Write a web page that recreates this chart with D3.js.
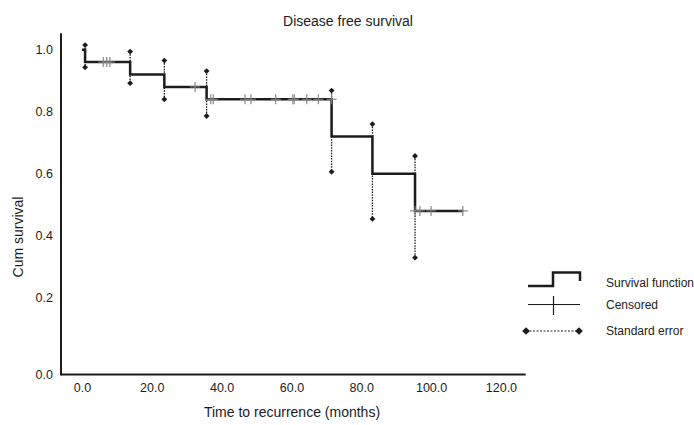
<!DOCTYPE html>
<html>
<head>
<meta charset="utf-8">
<script src="https://cdn.jsdelivr.net/npm/d3@7"></script>
<style>
  html, body { margin: 0; padding: 0; background: #fff; }
  svg { display: block; font-family: "Liberation Sans", Arial, sans-serif; }
</style>
</head>
<body>
<svg id="chart" width="694" height="425"></svg>
<script>
// ---- data ----
const title = "Disease free survival";
const xTitle = "Time to recurrence (months)";
const yTitle = "Cum survival";
const xTickValues = [0, 20, 40, 60, 80, 100, 120];
const yTickValues = [0, 0.2, 0.4, 0.6, 0.8, 1.0];

const eventTimes = [0.9, 13.8, 23.6, 35.7, 71.5, 83.2, 95.4];
const survivalAfter = [0.96, 0.92, 0.88, 0.84, 0.72, 0.60, 0.48];
const endTime = 109.2;

const seUpper = [1.015, 0.994, 0.965, 0.931, 0.868, 0.760, 0.657];
const seLower = [0.943, 0.892, 0.840, 0.786, 0.606, 0.454, 0.329];

const censorTimes = [6.1, 7.1, 8.0, 32.4, 36.9, 37.6, 46.7, 48.4, 55.5, 60.4, 60.8, 64.4, 67.7, 71.5, 95.4, 96.8, 100.0, 109.1];
const censorSurv  = [0.96, 0.96, 0.96, 0.88, 0.84, 0.84, 0.84, 0.84, 0.84, 0.84, 0.84, 0.84, 0.84, 0.84, 0.48, 0.48, 0.48, 0.48];

const legendLabels = ["Survival function", "Censored", "Standard error"];

// ---- drawing ----
const svg = d3.select("#chart");
const x = d3.scaleLinear().domain([-6, 127.1]).range([61, 525.7]);
const y = d3.scaleLinear().domain([0, 0.2, 1.0]).range([374.5, 297.7, 49.7]);
const ink = "#1c1c1c";

// title
svg.append("text").attr("x", 348).attr("y", 21).attr("dy", "0.35em")
  .attr("text-anchor", "middle").attr("font-size", 14).attr("fill", ink).text(title);

// axes
const xAxis = svg.append("g").attr("transform", `translate(0,${y(0)})`)
  .call(d3.axisBottom(x).tickValues(xTickValues).tickSize(0).tickPadding(9).tickFormat(d3.format(".1f")));
xAxis.select(".domain").remove();
xAxis.selectAll("text").attr("font-size", 12.5).attr("fill", ink).attr("font-family", "Liberation Sans, Arial, sans-serif");

const yAxis = svg.append("g").attr("transform", `translate(${x(-6)},0)`)
  .call(d3.axisLeft(y).tickValues(yTickValues).tickSize(0).tickPadding(8).tickFormat(d3.format(".1f")));
yAxis.select(".domain").remove();
yAxis.selectAll("text").attr("font-size", 12.5).attr("fill", ink).attr("font-family", "Liberation Sans, Arial, sans-serif");

svg.append("line").attr("x1", x(-6)).attr("x2", x(127.1)).attr("y1", y(0)).attr("y2", y(0))
  .attr("stroke", ink).attr("stroke-width", 2);
svg.append("line").attr("x1", x(-6)).attr("x2", x(-6)).attr("y1", y(0) + 1).attr("y2", y(1.053))
  .attr("stroke", ink).attr("stroke-width", 2);

// axis titles
svg.append("text").attr("x", 292).attr("y", 412).attr("dy", "0.35em")
  .attr("text-anchor", "middle").attr("font-size", 14).attr("fill", ink).text(xTitle);
svg.append("text").attr("transform", "translate(18,237) rotate(-90)").attr("dy", "0.35em")
  .attr("text-anchor", "middle").attr("font-size", 14).attr("fill", ink).text(yTitle);

// SE dotted lines with diamonds (rotated squares)
const diamond = d3.symbol(d3.symbolSquare, 17);
eventTimes.forEach((t, i) => {
  svg.append("line").attr("x1", x(t)).attr("x2", x(t)).attr("y1", y(seUpper[i])).attr("y2", y(seLower[i]))
    .attr("stroke", ink).attr("stroke-width", 1.3).attr("stroke-dasharray", "1.5,1.2");
  [seUpper[i], seLower[i]].forEach(v => {
    svg.append("path").attr("d", diamond()).attr("transform", `translate(${x(t)},${y(v)}) rotate(45)`).attr("fill", ink);
  });
});

// survival step line
const pts = [[0, 1]];
eventTimes.forEach((t, i) => pts.push([t, survivalAfter[i]]));
pts.push([endTime, survivalAfter[survivalAfter.length - 1]]);
const line = d3.line().x(d => x(d[0])).y(d => y(d[1])).curve(d3.curveStepAfter);
svg.append("path").attr("d", line(pts)).attr("fill", "none").attr("stroke", ink)
  .attr("stroke-width", 2.5).attr("stroke-linejoin", "miter");

// censored marks
const cg = svg.append("g").attr("stroke", "#808080").attr("stroke-width", 1.1);
censorTimes.forEach((t, i) => {
  const cx = x(t), cy = y(censorSurv[i]);
  cg.append("line").attr("x1", cx).attr("x2", cx).attr("y1", cy - 5).attr("y2", cy + 5);
  cg.append("line").attr("x1", cx - 5).attr("x2", cx + 5).attr("y1", cy).attr("y2", cy);
});

// legend
const lg = svg.append("g");
lg.append("path").attr("d", "M528,286 H553 V272.5 H580 V281")
  .attr("fill", "none").attr("stroke", ink).attr("stroke-width", 2.5);
lg.append("line").attr("x1", 528).attr("x2", 580).attr("y1", 304.5).attr("y2", 304.5).attr("stroke", ink).attr("stroke-width", 1.2);
lg.append("line").attr("x1", 553.5).attr("x2", 553.5).attr("y1", 296).attr("y2", 315).attr("stroke", ink).attr("stroke-width", 1.2);
lg.append("line").attr("x1", 526).attr("x2", 579).attr("y1", 331).attr("y2", 331)
  .attr("stroke", ink).attr("stroke-width", 1.1).attr("stroke-dasharray", "2,1.5");
[526, 579].forEach(px => lg.append("path").attr("d", d3.symbol(d3.symbolSquare, 30)()).attr("transform", `translate(${px},331) rotate(45)`).attr("fill", ink));
const legendY = [283, 304.5, 331];
legendLabels.forEach((lab, i) => {
  lg.append("text").attr("x", 606).attr("y", legendY[i]).attr("dy", "0.35em")
    .attr("font-size", 12).attr("fill", ink).text(lab);
});
</script>
</body>
</html>
